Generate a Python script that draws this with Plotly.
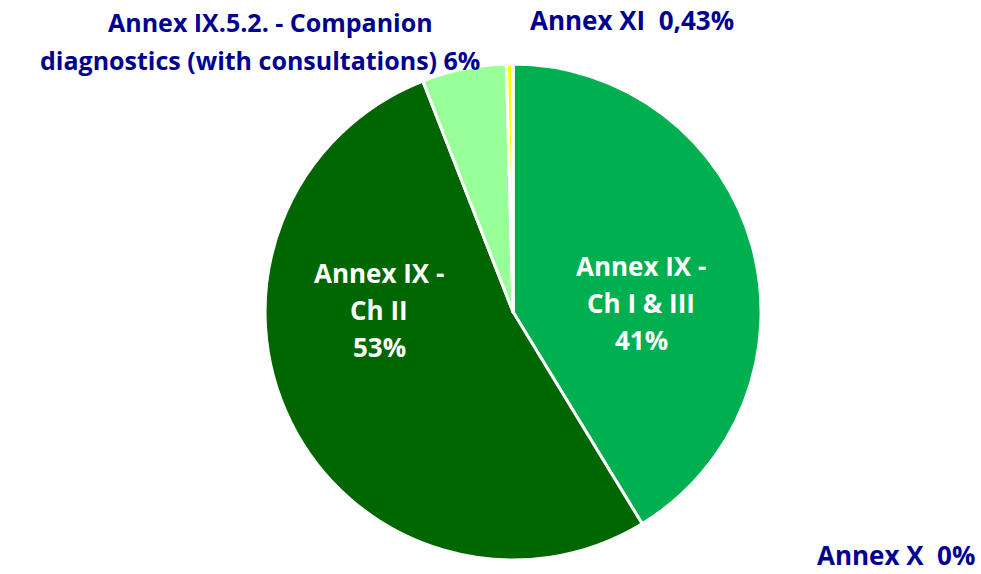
import plotly.graph_objects as go

# ---- data ----
categories = ["Annex IX - Ch I & III", "Annex IX - Ch II",
              "Annex IX.5.2. - Companion diagnostics (with consultations)",
              "Annex XI", "Annex X"]
values = [41.3, 52.8, 5.5, 0.43, 0.0]
pct_labels = ["41%", "53%", "6%", "0,43%", "0%"]
colors = ["#00B050", "#006600", "#99FF99", "#FFFF00", "#FF0000"]

FONT = "Open Sans"
NAVY = "#000090"

fig = go.Figure(go.Pie(
    labels=categories, values=values, sort=False, direction="clockwise",
    rotation=0, textinfo="none", hoverinfo="label+value",
    marker=dict(colors=colors, line=dict(color="white", width=3)),
    domain=dict(x=[0.270, 0.776], y=[0.0244, 0.8885]),
    showlegend=False,
))

W, H = 981, 574
anns = []
def add(text, x, y, color, size=26, xanchor="center", yanchor="middle"):
    anns.append(dict(text=text, x=x / W, y=1 - y / H, xref="paper", yref="paper",
                     showarrow=False, xanchor=xanchor, yanchor=yanchor,
                     font=dict(family=FONT, size=size, color=color)))

# inside labels
l0 = ["Annex IX -", "Ch I & III", pct_labels[0]]
for i, t in enumerate(l0):
    add(f"<b>{t}</b>", 641, 266 + 37 * i, "white")
l1 = ["Annex IX -", "Ch II", pct_labels[1]]
for i, t in enumerate(l1):
    add(f"<b>{t}</b>", 379, 273 + 37 * i, "white")

# outside labels
add("<b>Annex IX.5.2. - Companion</b>", 270, 22, NAVY, size=25)
add(f"<b>diagnostics (with consultations) {pct_labels[2]}</b>", 260, 60, NAVY, size=25)
add(f"<b>{categories[3]}  {pct_labels[3]}</b>", 632, 20, NAVY)
add(f"<b>{categories[4]}  {pct_labels[4]}</b>", 896, 555, NAVY)

fig.update_layout(width=W, height=H, margin=dict(l=0, r=0, t=0, b=0),
                  paper_bgcolor="white", plot_bgcolor="white",
                  annotations=anns)
fig.write_html("out.html", config={"displayModeBar": False},
               post_script="document.body.style.margin='0';")
